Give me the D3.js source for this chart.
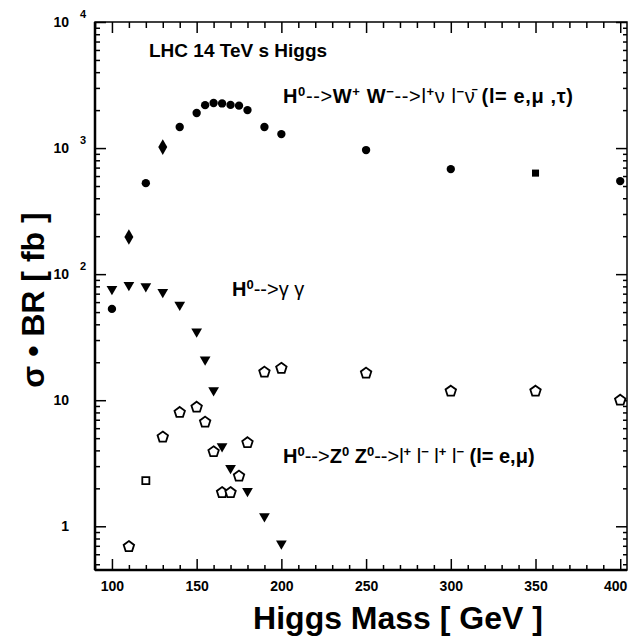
<!DOCTYPE html>
<html>
<head>
<meta charset="utf-8">
<script src="https://cdn.jsdelivr.net/npm/d3@7"></script>
<style>
  body { margin: 0; background: #fff; }
  svg { display: block; }
  .lbl { font-family: "Liberation Sans", Arial, sans-serif; font-weight: bold; fill: #000; }
  .nar { font-family: "Liberation Sans Narrow", "Liberation Sans", Arial, sans-serif; font-weight: bold; fill: #000; }
  .tk { font-family: "Liberation Sans Narrow", "Liberation Sans", Arial, sans-serif; font-weight: bold; font-size: 14px; fill: #000; }
</style>
</head>
<body>
<div id="chart"></div>
<script>
// Higgs mass points [GeV] and sigma*BR [fb] per channel
const massWW = [100, 110, 120, 130, 140, 150, 155, 160, 165, 170, 175, 180, 190, 200, 250, 300, 350, 400];
const sigmaWW = [53, 197, 527, 1018, 1468, 1896, 2190, 2280, 2260, 2200, 2170, 2000, 1468, 1291, 964, 681, 633, 547];

const massGG = [100, 110, 120, 130, 140, 150, 155, 160, 165, 170, 180, 190, 200];
const sigmaGG = [76, 82, 80, 72, 57, 35, 21, 12, 4.3, 2.9, 1.9, 1.2, 0.73];

const massZZ = [110, 120, 130, 140, 150, 155, 160, 165, 170, 175, 180, 190, 200, 250, 300, 350, 400];
const sigmaZZ = [0.69, 2.3, 5.1, 8.0, 8.8, 6.7, 3.9, 1.85, 1.85, 2.5, 4.6, 16.7, 17.9, 16.4, 11.8, 11.8, 10.0];

const xMajor = [100, 150, 200, 250, 300, 350, 400];
const yDecades = [1, 10, 100, 1000, 10000];
const yLabels = [["1", ""], ["10", ""], ["10", "2"], ["10", "3"], ["10", "4"]];

const W = 629, H = 638;
const mL = 95, mR = 627, mT = 22, mB = 570;

const svg = d3.select("#chart").append("svg")
    .attr("width", W).attr("height", H);

const x = d3.scaleLinear().domain([90, 404]).range([mL, mR]);
const y = d3.scaleLog().domain([0.45, 10000]).range([mB, mT]);

// minor tick values
const yMinor = [];
[0.1, 1, 10, 100, 1000].forEach(d => {
    for (let k = 2; k <= 9; k++) {
        const v = d * k;
        if (v >= 0.45 && v <= 10000) yMinor.push(v);
    }
});
const xMinor = d3.range(90, 405, 10).filter(v => v % 50 !== 0);

const g = svg.append("g");

// frame
g.append("rect")
    .attr("x", mL).attr("y", mT)
    .attr("width", mR - mL).attr("height", mB - mT)
    .attr("fill", "none").attr("stroke", "#000").attr("stroke-width", 1.5);
g.append("line").attr("x1", mL).attr("x2", mL).attr("y1", mT).attr("y2", mB)
    .attr("stroke", "#000").attr("stroke-width", 2.5);
g.append("line").attr("x1", mL).attr("x2", mR).attr("y1", mB).attr("y2", mB)
    .attr("stroke", "#000").attr("stroke-width", 2.5);

function axisStyle(sel) {
    sel.select(".domain").remove();
    sel.selectAll("line").attr("stroke", "#000").attr("stroke-width", 1.5);
}

// left axis ticks (inside)
g.append("g").attr("transform", `translate(${mL},0)`)
    .call(d3.axisLeft(y).tickValues(yDecades).tickSize(-11).tickFormat(""))
    .call(axisStyle);
g.append("g").attr("transform", `translate(${mL},0)`)
    .call(d3.axisLeft(y).tickValues(yMinor).tickSize(-5).tickFormat(""))
    .call(axisStyle);
// right axis ticks
g.append("g").attr("transform", `translate(${mR},0)`)
    .call(d3.axisRight(y).tickValues(yDecades).tickSize(-11).tickFormat(""))
    .call(axisStyle);
g.append("g").attr("transform", `translate(${mR},0)`)
    .call(d3.axisRight(y).tickValues(yMinor).tickSize(-4).tickFormat(""))
    .call(axisStyle);

// bottom axis
const xAx = g.append("g").attr("transform", `translate(0,${mB})`)
    .call(d3.axisBottom(x).tickValues(xMajor).tickSize(-11).tickPadding(11))
    .call(axisStyle);
xAx.attr("font-size", null).attr("font-family", null);
xAx.selectAll("text").attr("class", "tk")
    .attr("dx", d => d === 400 ? -5 : 0);
g.append("g").attr("transform", `translate(0,${mB})`)
    .call(d3.axisBottom(x).tickValues(xMinor).tickSize(-5).tickFormat(""))
    .call(axisStyle);
// top axis
g.append("g").attr("transform", `translate(0,${mT})`)
    .call(d3.axisTop(x).tickValues(xMajor).tickSize(-11).tickFormat(""))
    .call(axisStyle);
g.append("g").attr("transform", `translate(0,${mT})`)
    .call(d3.axisTop(x).tickValues(xMinor).tickSize(-6).tickFormat(""))
    .call(axisStyle);

// y tick labels with superscripts
yDecades.forEach((v, i) => {
    svg.append("text").attr("class", "tk")
        .attr("x", 69).attr("y", y(v) + 5).attr("text-anchor", "end")
        .text(yLabels[i][0]);
    if (yLabels[i][1]) {
        svg.append("text").attr("class", "tk").style("font-size", "11px")
            .attr("x", 80).attr("y", y(v) - 4)
            .text(yLabels[i][1]);
    }
});

// axis titles
svg.append("text").attr("class", "lbl")
    .attr("x", 398).attr("y", 629).attr("text-anchor", "middle")
    .attr("font-size", 32)
    .text("Higgs Mass [ GeV ]");
svg.append("text").attr("class", "nar")
    .attr("transform", "translate(44,300) rotate(-90)")
    .attr("text-anchor", "middle").attr("font-size", 32)
    .text("σ • BR [ fb ]");

// markers
const plot = svg.append("g");
const circle = d3.symbol().type(d3.symbolCircle).size(55);
const diamond = d3.symbol().type(d3.symbolDiamond).size(70);
const square = d3.symbol().type(d3.symbolSquare).size(50);
const triangle = d3.symbol().type(d3.symbolTriangle).size(50);

function pentagon(r) {
    const pts = d3.range(5).map(k => {
        const a = -Math.PI / 2 + k * 2 * Math.PI / 5;
        return [r * Math.cos(a), r * Math.sin(a)];
    });
    return "M" + pts.map(p => p.join(",")).join("L") + "Z";
}

const ww = massWW.map((m, i) => ({ m, v: sigmaWW[i] }));
plot.selectAll(".ww").data(ww).enter().append("path")
    .attr("class", "ww")
    .attr("transform", d => `translate(${x(d.m)},${y(d.v)})`)
    .attr("d", d => (d.m === 110 || d.m === 130) ? diamond() : d.m === 350 ? square() : circle())
    .attr("fill", "#000");

const gg = massGG.map((m, i) => ({ m, v: sigmaGG[i] }));
plot.selectAll(".gg").data(gg).enter().append("path")
    .attr("class", "gg")
    .attr("transform", d => `translate(${x(d.m)},${y(d.v)}) rotate(180)`)
    .attr("d", triangle())
    .attr("fill", "#000");

const zz = massZZ.map((m, i) => ({ m, v: sigmaZZ[i] }));
plot.selectAll(".zz").data(zz).enter().append("path")
    .attr("class", "zz")
    .attr("transform", d => `translate(${x(d.m)},${y(d.v)})`)
    .attr("d", d => d.m === 120 ? square() : pentagon(5.5))
    .attr("fill", "#fff").attr("stroke", "#000").attr("stroke-width", 1.8);

// annotations
function sup(t, s) {
    t.append("tspan").attr("font-size", "0.65em").attr("baseline-shift", "super").text(s);
}
function thin(t, s) {
    t.append("tspan").attr("font-weight", "normal").text(s);
}
svg.append("text").attr("class", "lbl").attr("font-size", 19)
    .attr("x", 149).attr("y", 57)
    .text("LHC 14 TeV s Higgs");

const tWW = svg.append("text").attr("class", "lbl").attr("font-size", 20)
    .attr("x", 283).attr("y", 103)
    .attr("textLength", 290).attr("lengthAdjust", "spacing");
tWW.append("tspan").text("H");
sup(tWW, "0");
thin(tWW, "-->");
tWW.append("tspan").text("W");
sup(tWW, "+");
tWW.append("tspan").text(" W");
sup(tWW, "−");
thin(tWW, "-->l");
sup(tWW, "+");
thin(tWW, "ν l");
sup(tWW, "−");
thin(tWW, "ν̄ ");
tWW.append("tspan").text("(l= e,μ ,τ)");

const tGG = svg.append("text").attr("class", "lbl").attr("font-size", 20)
    .attr("x", 232).attr("y", 296);
tGG.append("tspan").text("H");
sup(tGG, "0");
thin(tGG, "-->γ γ");

const tZZ = svg.append("text").attr("class", "lbl").attr("font-size", 20)
    .attr("x", 283).attr("y", 463);
tZZ.append("tspan").text("H");
sup(tZZ, "0");
thin(tZZ, "-->");
tZZ.append("tspan").text("Z");
sup(tZZ, "0");
tZZ.append("tspan").text(" Z");
sup(tZZ, "0");
thin(tZZ, "-->l");
sup(tZZ, "+");
thin(tZZ, " l");
sup(tZZ, "−");
thin(tZZ, " l");
sup(tZZ, "+");
thin(tZZ, " l");
sup(tZZ, "−");
tZZ.append("tspan").text(" (l= e,μ)");
</script>
</body>
</html>
